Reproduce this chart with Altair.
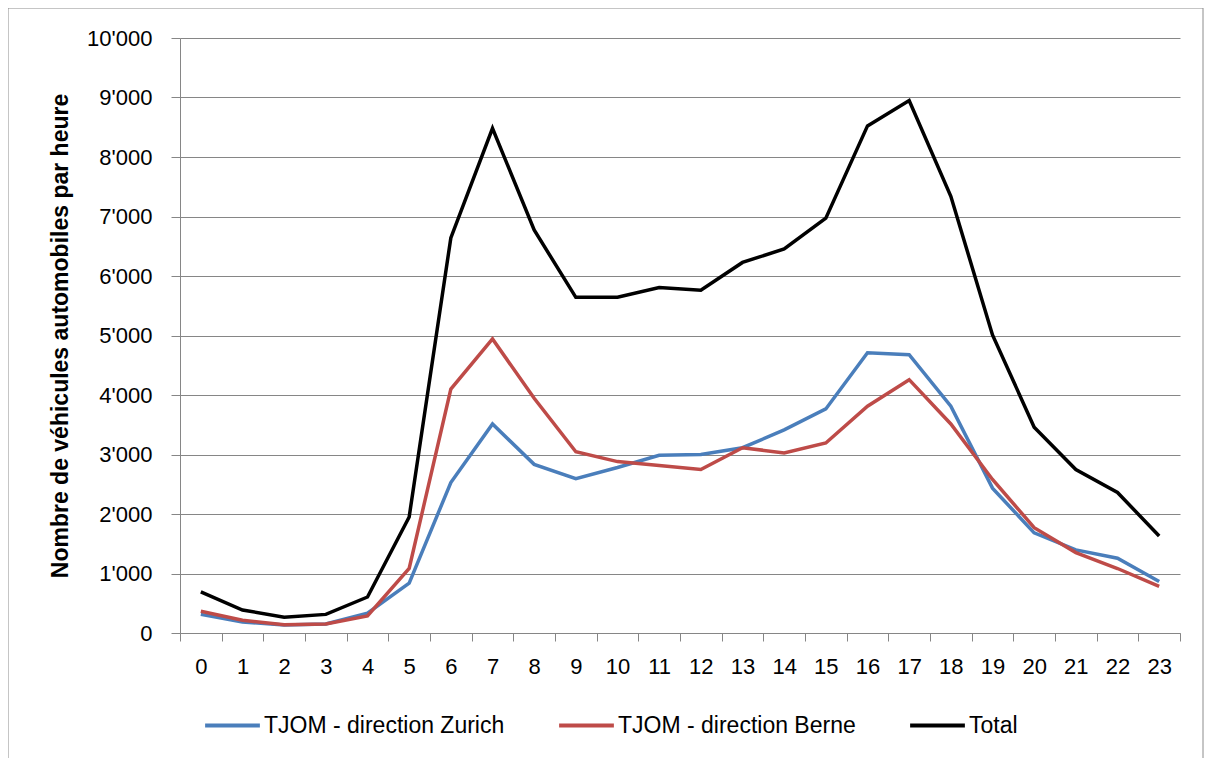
import altair as alt
import pandas as pd

hours = list(range(24))
zurich = [313, 186, 133, 153, 333, 838, 2528, 3513, 2834, 2595, 2781, 2987,
          3001, 3114, 3413, 3766, 4711, 4677, 3812, 2435, 1683, 1397, 1257, 865]
berne = [366, 213, 140, 153, 286, 1084, 4098, 4943, 3945, 3047, 2881, 2814,
         2748, 3114, 3027, 3194, 3812, 4258, 3513, 2581, 1770, 1351, 1084, 785]
total = [690, 386, 266, 313, 605, 1950, 6640, 8483, 6773, 5642, 5642, 5808,
         5762, 6228, 6454, 6973, 8523, 8949, 7339, 5010, 3460, 2748, 2362, 1630]

series_names = ["TJOM - direction Zurich", "TJOM - direction Berne", "Total"]
series_colors = ["#4A7EBB", "#BE4B48", "#000000"]
legend_x = [23, 377, 728]

rows = []
for name, vals in zip(series_names, [zurich, berne, total]):
    for h, v in zip(hours, vals):
        rows.append({"hour": h, "value": v, "series": name})
df = pd.DataFrame(rows)

FONT = "Liberation Sans"
GREY = "#868686"

x_enc = alt.X(
    "hour:O",
    sort=hours,
    scale=alt.Scale(type="band", paddingInner=0, paddingOuter=0),
    axis=alt.Axis(
        title=None, labelAngle=0, tickBand="extent", tickSize=8, labelPadding=15,
        grid=False, domainColor=GREY, tickColor=GREY, labelFontSize=22,
    ),
)
y_enc = alt.Y(
    "value:Q",
    scale=alt.Scale(domain=[0, 10000], nice=False),
    axis=alt.Axis(
        values=list(range(0, 10001, 1000)),
        labelExpr="replace(format(datum.value, ','), ',', \"'\")",
        title="Nombre de véhicules automobiles par heure",
        titleFontWeight="bold", titleFontSize=23, titleX=-120, titleY=297.5,
        titleAngle=270, titleAlign="center", titleBaseline="middle",
        tickSize=9, labelPadding=19, grid=True, gridColor=GREY,
        domainColor=GREY, tickColor=GREY, labelFontSize=22,
    ),
)

layers = []
frame = alt.Chart(pd.DataFrame({"a": [0]})).mark_rect(
    fill="transparent", stroke="#8c8c8c", strokeWidth=1
).encode(
    x=alt.value(-172), x2=alt.value(1023), y=alt.value(-30), y2=alt.value(740)
)
layers.append(frame)

for name, col, lx in zip(series_names, series_colors, legend_x):
    layers.append(
        alt.Chart(df)
        .transform_filter(alt.datum.series == name)
        .mark_line(strokeWidth=3.5)
        .encode(
            x=x_enc,
            y=y_enc,
            color=alt.Color(
                "series:N",
                scale=alt.Scale(domain=[name], range=[col]),
                legend=alt.Legend(
                    title=None, orient="none", legendX=lx, legendY=658,
                    symbolType="stroke", symbolSize=3000, symbolStrokeWidth=4,
                    labelFontSize=23, labelFont=FONT, labelColor="#000000",
                    labelOffset=2, padding=0, labelLimit=400,
                ),
            ),
        )
    )

chart = (
    alt.layer(*layers)
    .resolve_scale(color="independent")
    .resolve_legend(color="independent")
    .properties(
        width=1000, height=595,
        autosize=alt.AutoSizeParams(type="none"),
        padding={"left": 172, "top": 30, "right": 24, "bottom": 125},
        background="white",
    )
    .configure_view(stroke=None)
    .configure_axis(labelFont=FONT, titleFont=FONT, labelColor="#000000", titleColor="#000000")
)

chart.save("out.html", embed_options={"renderer": "svg", "actions": False})
